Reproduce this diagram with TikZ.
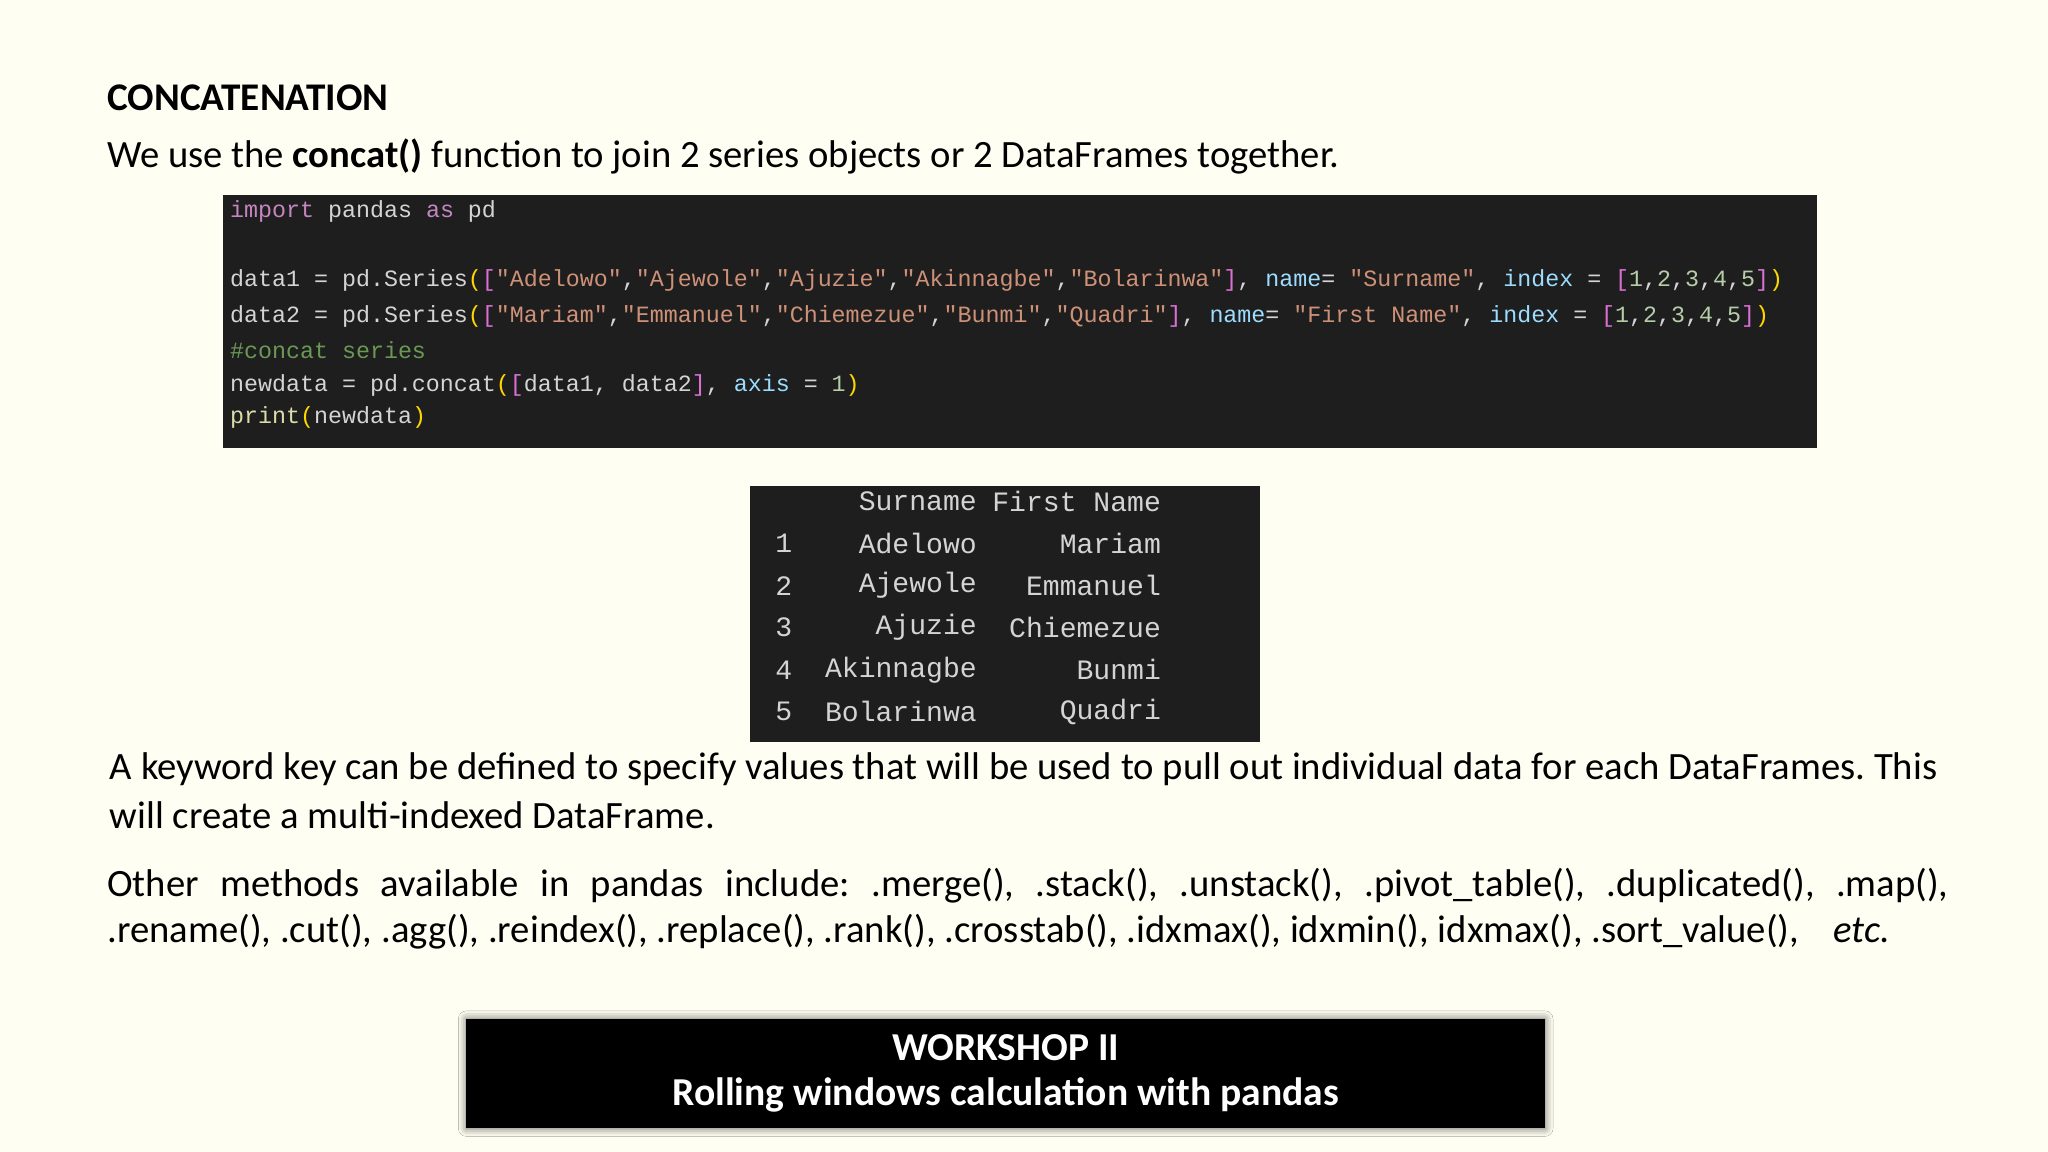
\documentclass[tikz,border=0pt]{standalone}
\usepackage{fontspec}
\setmainfont{Carlito}
\setmonofont{Liberation Mono}
\usetikzlibrary{shadows.blur}
\frenchspacing
\definecolor{bg}{HTML}{FEFEF2}
\definecolor{codebg}{HTML}{1E1E1E}
\definecolor{ck}{HTML}{C586C0}
\definecolor{cs}{HTML}{CE9178}
\definecolor{cn}{HTML}{9CDCFE}
\definecolor{cnum}{HTML}{B5CEA8}
\definecolor{cc}{HTML}{6A9955}
\definecolor{cy}{HTML}{FFD700}
\definecolor{cp}{HTML}{DA70D6}
\definecolor{cd}{HTML}{D4D4D4}
\definecolor{cf}{HTML}{DCDCAA}
\begin{document}
\begin{tikzpicture}[x=1pt,y=-1pt,
  txt/.style={anchor=west,inner sep=0pt,font=\fontsize{29.6}{33}\selectfont},
  code/.style={anchor=west,inner sep=0pt,text=cd,font=\ttfamily\fontsize{17.85}{20}\selectfont},
  outtxt/.style={inner sep=0pt,text=cd,font=\ttfamily\fontsize{21.5}{24}\selectfont}]
\fill[bg] (0,0) rectangle (1568,882);
\path[use as bounding box] (0,0) rectangle (1568,882);
\node[txt,font=\bfseries\fontsize{30}{33}\selectfont] (t) at (82,75) {CONCATENATION};
\node[txt] (s) at (82,120) {We use the \textbf{concat()} function to join 2 series objects or 2 DataFrames together.};
% code box
\fill[codebg] (171,149) rectangle (1391,343);
\node[code] (c1) at (176,162) {\textcolor{ck}{import} pandas \textcolor{ck}{as} pd};
\node[code] (c2) at (176,215) {data1 = pd.Series\textcolor{cy}{(}\textcolor{cp}{[}\textcolor{cs}{"Adelowo"},\textcolor{cs}{"Ajewole"},\textcolor{cs}{"Ajuzie"},\textcolor{cs}{"Akinnagbe"},\textcolor{cs}{"Bolarinwa"}\textcolor{cp}{]}, \textcolor{cn}{name}= \textcolor{cs}{"Surname"}, \textcolor{cn}{index} = \textcolor{cp}{[}\textcolor{cnum}{1},\textcolor{cnum}{2},\textcolor{cnum}{3},\textcolor{cnum}{4},\textcolor{cnum}{5}\textcolor{cp}{]}\textcolor{cy}{)}};
\node[code] (c3) at (176,242) {data2 = pd.Series\textcolor{cy}{(}\textcolor{cp}{[}\textcolor{cs}{"Mariam"},\textcolor{cs}{"Emmanuel"},\textcolor{cs}{"Chiemezue"},\textcolor{cs}{"Bunmi"},\textcolor{cs}{"Quadri"}\textcolor{cp}{]}, \textcolor{cn}{name}= \textcolor{cs}{"First Name"}, \textcolor{cn}{index} = \textcolor{cp}{[}\textcolor{cnum}{1},\textcolor{cnum}{2},\textcolor{cnum}{3},\textcolor{cnum}{4},\textcolor{cnum}{5}\textcolor{cp}{]}\textcolor{cy}{)}};
\node[code,text=cc] (c4) at (176,268) {\#concat series};
\node[code] (c5) at (176,295) {newdata = pd.concat\textcolor{cy}{(}\textcolor{cp}{[}data1, data2\textcolor{cp}{]}, \textcolor{cn}{axis} = \textcolor{cnum}{1}\textcolor{cy}{)}};
\node[code] (c6) at (176,320) {\textcolor{cf}{print}\textcolor{cy}{(}newdata\textcolor{cy}{)}};
% output box
\fill[codebg] (574,372) rectangle (965,568);
\node[outtxt,anchor=east] (h1) at (748,384) {Surname};
\node[outtxt,anchor=east] (h2) at (889,384) {First Name};
\foreach \i/\a/\b [count=\k] in {1/Adelowo/Mariam,2/Ajewole/Emmanuel,3/Ajuzie/Chiemezue,4/Akinnagbe/Bunmi,5/Bolarinwa/Quadri}{
  \node[outtxt] (i\k) at (600,384+32.2*\k) {\i};
  \node[outtxt,anchor=east] (a\k) at (748,384+32.2*\k) {\a};
  \node[outtxt,anchor=east] (b\k) at (889,384+32.2*\k) {\b};
}
% paragraphs
\node[txt] (p1) at (84,589) {A keyword key can be defined to specify values that will be used to pull out individual data for each DataFrames. This};
\node[txt] (p2) at (84,624) {will create a multi-indexed DataFrame.};
\node[txt] (q1) at (82,678) {\makebox[1410pt][s]{Other methods available in pandas include: .merge(), .stack(), .unstack(), .pivot\_table(), .duplicated(), .map(),}};
\node[txt] (q2) at (82,713) {.rename(), .cut(), .agg(), .reindex(), .replace(), .rank(), .crosstab(), .idxmax(), idxmin(), idxmax(), .sort\_value(),\hspace{26pt}\textit{etc.}};
% workshop box
\fill[black,blur shadow={shadow xshift=0pt,shadow yshift=0pt,shadow blur radius=6pt,shadow opacity=60}] (357,780) rectangle (1183,864);
\node[inner sep=0pt,text=white,font=\bfseries\fontsize{30.3}{33}\selectfont] (w1) at (770,802) {WORKSHOP II};
\node[inner sep=0pt,text=white,font=\bfseries\fontsize{30.3}{33}\selectfont] (w2) at (770,838) {Rolling windows calculation with pandas};
\end{tikzpicture}
\end{document}
